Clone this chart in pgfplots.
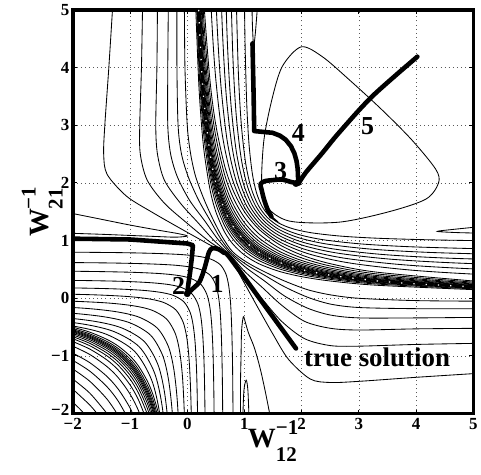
\documentclass[border=0pt]{standalone}
\usepackage{pgfplots}
\pgfplotsset{compat=1.18}
\usepackage{fontspec}
\setmainfont{Liberation Serif}
\newcommand{\Wl}[1]{\fontsize{28}{28}\selectfont\bfseries W\rlap{\raisebox{-14pt}{\fontsize{21}{21}\selectfont\bfseries #1}}\raisebox{13pt}{\fontsize{21}{21}\selectfont\bfseries −1}}
\pgfplotsset{cl/.style={black, line width=0.85pt, smooth},
 tr/.style={black, line width=4.6pt, line join=round, line cap=round}}
\begin{document}
\begin{tikzpicture}
\begin{axis}[
 scale only axis, width=402pt, height=405pt,
 xmin=-2, xmax=5, ymin=-2, ymax=5,
 xtick={-2,-1,0,1,2,3,4,5}, ytick={-2,-1,0,1,2,3,4,5},
 xticklabels={−2,−1,0,1,2,3,4,5}, yticklabels={\raisebox{7pt}{−2},−1,0,1,2,3,4,5},
 grid=major, grid style={black!65, line width=0.9pt, dash pattern=on 0.9pt off 3.2pt},
 axis line style={line width=3.6pt},
 tick align=inside, major tick length=4pt, tick style={black, line width=1pt},
 ticklabel style={font=\fontsize{17}{17}\selectfont\bfseries},
 xticklabel style={yshift=-1pt},
 xlabel={\Wl{12}}, ylabel={\Wl{21}},
 xlabel style={at={(axis description cs:0.5,0)}, anchor=north, yshift=-7pt, inner sep=0pt},
 ylabel style={at={(axis description cs:-0.025,0.5)}, anchor=south, inner sep=0pt},
]
% ---- upper band xy=c
\addplot[cl] coordinates {(0.15,5) (0.2,3.75) (0.25,3) (0.3,2.5) (0.4,1.875) (0.5,1.5) (0.65,1.154) (0.8,0.9375) (1,0.75) (1.25,0.6) (1.6,0.469) (2,0.375) (2.5,0.3) (3.3,0.227) (5,0.15)};
\addplot[cl] coordinates {(0.15,5.467) (0.2,4.1) (0.25,3.28) (0.3,2.733) (0.4,2.05) (0.5,1.64) (0.65,1.261) (0.8,1.025) (1,0.82) (1.25,0.656) (1.6,0.5125) (2,0.41) (2.5,0.328) (3.3,0.248) (5,0.164)};
\addplot[cl] coordinates {(0.15,5.8) (0.2,4.35) (0.25,3.48) (0.3,2.9) (0.4,2.175) (0.5,1.74) (0.65,1.338) (0.8,1.0875) (1,0.87) (1.25,0.696) (1.6,0.544) (2,0.435) (2.5,0.348) (3.3,0.264) (5,0.174)};
\addplot[cl] coordinates {(0.15,6.067) (0.2,4.55) (0.25,3.64) (0.3,3.033) (0.4,2.275) (0.5,1.82) (0.65,1.4) (0.8,1.1375) (1,0.91) (1.25,0.728) (1.6,0.569) (2,0.455) (2.5,0.364) (3.3,0.276) (5,0.182)};
\addplot[cl] coordinates {(0.15,6.267) (0.2,4.7) (0.25,3.76) (0.3,3.133) (0.4,2.35) (0.5,1.88) (0.65,1.446) (0.8,1.175) (1,0.94) (1.25,0.752) (1.6,0.5875) (2,0.47) (2.5,0.376) (3.3,0.285) (5,0.188)};
\addplot[cl] coordinates {(0.15,6.433) (0.2,4.825) (0.25,3.86) (0.3,3.217) (0.4,2.4125) (0.5,1.93) (0.65,1.484) (0.8,1.206) (1,0.965) (1.25,0.772) (1.6,0.603) (2,0.4825) (2.5,0.386) (3.3,0.292) (5,0.193)};
\addplot[cl] coordinates {(0.15,6.567) (0.2,4.925) (0.25,3.94) (0.3,3.283) (0.4,2.4625) (0.5,1.97) (0.65,1.515) (0.8,1.231) (1,0.985) (1.25,0.788) (1.6,0.616) (2,0.4925) (2.5,0.394) (3.3,0.298) (5,0.197)};
\addplot[cl] coordinates {(0.15,6.767) (0.2,5.075) (0.25,4.06) (0.3,3.383) (0.4,2.5375) (0.5,2.03) (0.65,1.561) (0.8,1.269) (1,1.015) (1.25,0.812) (1.6,0.634) (2,0.5075) (2.5,0.406) (3.3,0.308) (5,0.203)};
\addplot[cl] coordinates {(0.15,6.9) (0.2,5.175) (0.25,4.14) (0.3,3.45) (0.4,2.5875) (0.5,2.07) (0.65,1.592) (0.8,1.294) (1,1.035) (1.25,0.828) (1.6,0.647) (2,0.5175) (2.5,0.414) (3.3,0.314) (5,0.207)};
\addplot[cl] coordinates {(0.15,7.067) (0.2,5.3) (0.25,4.24) (0.3,3.533) (0.4,2.65) (0.5,2.12) (0.65,1.63) (0.8,1.325) (1,1.06) (1.25,0.848) (1.6,0.6625) (2,0.53) (2.5,0.424) (3.3,0.321) (5,0.212)};
\addplot[cl] coordinates {(0.15,7.267) (0.2,5.45) (0.25,4.36) (0.3,3.633) (0.4,2.725) (0.5,2.18) (0.65,1.677) (0.8,1.3625) (1,1.09) (1.25,0.872) (1.6,0.681) (2,0.545) (2.5,0.436) (3.3,0.33) (5,0.218)};
\addplot[cl] coordinates {(0.15,7.533) (0.2,5.65) (0.25,4.52) (0.3,3.767) (0.4,2.825) (0.5,2.26) (0.65,1.738) (0.8,1.4125) (1,1.13) (1.25,0.904) (1.6,0.706) (2,0.565) (2.5,0.452) (3.3,0.342) (5,0.226)};
\addplot[cl] coordinates {(0.15,7.867) (0.2,5.9) (0.25,4.72) (0.3,3.933) (0.4,2.95) (0.5,2.36) (0.65,1.815) (0.8,1.475) (1,1.18) (1.25,0.944) (1.6,0.7375) (2,0.59) (2.5,0.472) (3.3,0.358) (5,0.236)};
\addplot[cl] coordinates {(0.15,8.267) (0.2,6.2) (0.25,4.96) (0.3,4.133) (0.4,3.1) (0.5,2.48) (0.65,1.907) (0.8,1.55) (1,1.24) (1.25,0.992) (1.6,0.775) (2,0.62) (2.5,0.496) (3.3,0.376) (5,0.248)};
\addplot[cl] coordinates {(0.15,8.733) (0.2,6.55) (0.25,5.24) (0.3,4.367) (0.4,3.275) (0.5,2.62) (0.65,2.015) (0.8,1.6375) (1,1.31) (1.25,1.048) (1.6,0.819) (2,0.655) (2.5,0.524) (3.3,0.397) (5,0.262)};
\addplot[cl] coordinates {(0.15,9.333) (0.2,7) (0.25,5.6) (0.3,4.667) (0.4,3.5) (0.5,2.8) (0.65,2.154) (0.8,1.75) (1,1.4) (1.25,1.12) (1.6,0.875) (2,0.7) (2.5,0.56) (3.3,0.424) (5,0.28)};
\addplot[cl] coordinates {(0.15,10) (0.2,7.5) (0.25,6) (0.3,5) (0.4,3.75) (0.5,3) (0.65,2.308) (0.8,1.875) (1,1.5) (1.25,1.2) (1.6,0.9375) (2,0.75) (2.5,0.6) (3.3,0.4545) (5,0.3)};
% white speckle along the singular curve
\addplot[white, line width=1.3pt, smooth, dash pattern=on 1.3pt off 11pt] coordinates {(0.2,5) (0.25,4) (0.3,3.333) (0.4,2.5) (0.5,2) (0.65,1.538) (0.8,1.25) (1,1) (1.25,0.8) (1.538,0.65) (2,0.5) (2.5,0.4) (3.333,0.3) (4,0.25) (5,0.2)};
% ---- upper-right family
\addplot[cl] coordinates {(0.332,7.801) (0.396,5.518) (0.482,3.993) (0.610,2.851) (0.770,2.123) (0.983,1.605) (1.250,1.250) (1.605,0.983) (2.123,0.770) (2.851,0.610) (3.993,0.482) (5.518,0.396) (7.801,0.332)};
\addplot[cl] coordinates {(0.445,7.242) (0.503,5.164) (0.581,3.777) (0.697,2.737) (0.843,2.074) (1.037,1.603) (1.280,1.280) (1.603,1.037) (2.074,0.843) (2.737,0.697) (3.777,0.581) (5.164,0.503) (7.242,0.445)};
\addplot[cl] coordinates {(0.554,6.707) (0.607,4.826) (0.677,3.570) (0.783,2.629) (0.915,2.029) (1.090,1.603) (1.310,1.310) (1.603,1.090) (2.029,0.915) (2.629,0.783) (3.570,0.677) (4.826,0.607) (6.707,0.554)};
\addplot[cl] coordinates {(0.648,6.283) (0.696,4.560) (0.760,3.410) (0.857,2.548) (0.978,1.999) (1.139,1.608) (1.340,1.340) (1.608,1.139) (1.999,0.978) (2.548,0.857) (3.410,0.760) (4.560,0.696) (6.283,0.648)};
\addplot[cl] coordinates {(0.752,5.785) (0.795,4.246) (0.852,3.219) (0.939,2.449) (1.047,1.958) (1.190,1.609) (1.370,1.370) (1.609,1.190) (1.958,1.047) (2.449,0.939) (3.219,0.852) (4.246,0.795) (5.785,0.752)};
\addplot[cl] coordinates {(0.854,5.299) (0.892,3.940) (0.943,3.033) (1.019,2.353) (1.114,1.919) (1.241,1.612) (1.400,1.400) (1.612,1.241) (1.919,1.114) (2.353,1.019) (3.033,0.943) (3.940,0.892) (5.299,0.854)};
\addplot[cl] coordinates {(0.990,5.831) (1.010,4.432) (1.039,3.386) (1.078,2.687) (1.137,2.164) (1.210,1.830) (1.308,1.593) (1.430,1.430) (1.593,1.308) (1.830,1.210) (2.164,1.137) (2.687,1.078) (3.386,1.039) (4.432,1.010) (5.831,0.990)};
% ---- triangle loop, spikes, small loop
\addplot[cl, smooth cycle] coordinates {(1.99,4.36) (1.66,4.02) (1.48,3.45) (1.34,2.75) (1.30,2.0) (1.38,1.6) (1.78,1.34) (2.65,1.32) (3.52,1.5) (4.17,1.72) (4.39,2.0) (4.34,2.24) (3.92,2.75) (3.4,3.27) (2.83,3.79) (2.36,4.19)};
\addplot[cl] coordinates {(1.13,5.1) (1.14,4.7) (1.16,4.38) (1.19,4.6) (1.23,5.1)};
\addplot[cl] coordinates {(5.1,1.13) (4.7,1.14) (4.37,1.16) (4.6,1.19) (5.1,1.24)};
\addplot[cl, smooth cycle] coordinates {(1.40,1.52) (1.47,1.40) (1.58,1.33) (1.50,1.40) (1.43,1.48)};
% ---- lower band
\addplot[cl] coordinates {(-2,-0.5) (-1.7,-0.588) (-1.4,-0.714) (-1.2,-0.833) (-1,-1) (-0.85,-1.176) (-0.7,-1.429) (-0.6,-1.667) (-0.5,-2)};
\addplot[cl] coordinates {(-2,-0.525) (-1.7,-0.618) (-1.4,-0.75) (-1.2,-0.875) (-1,-1.05) (-0.85,-1.235) (-0.7,-1.5) (-0.6,-1.75) (-0.5,-2.1)};
\addplot[cl] coordinates {(-2,-0.545) (-1.7,-0.641) (-1.4,-0.779) (-1.2,-0.908) (-1,-1.09) (-0.85,-1.282) (-0.7,-1.557) (-0.6,-1.817) (-0.5,-2.18)};
\addplot[cl] coordinates {(-2,-0.56) (-1.7,-0.659) (-1.4,-0.8) (-1.2,-0.933) (-1,-1.12) (-0.85,-1.318) (-0.7,-1.6) (-0.6,-1.867) (-0.5,-2.24)};
\addplot[cl] coordinates {(-2,-0.575) (-1.7,-0.676) (-1.4,-0.821) (-1.2,-0.958) (-1,-1.15) (-0.85,-1.353) (-0.7,-1.643) (-0.6,-1.917) (-0.5,-2.3)};
\addplot[cl] coordinates {(-2,-0.59) (-1.7,-0.694) (-1.4,-0.843) (-1.2,-0.983) (-1,-1.18) (-0.85,-1.388) (-0.7,-1.686) (-0.6,-1.967) (-0.5,-2.36)};
\addplot[cl] coordinates {(-2,-0.61) (-1.7,-0.718) (-1.4,-0.871) (-1.2,-1.017) (-1,-1.22) (-0.85,-1.435) (-0.7,-1.743) (-0.6,-2.033)};
\addplot[cl] coordinates {(-2,-0.635) (-1.7,-0.747) (-1.4,-0.907) (-1.2,-1.058) (-1,-1.27) (-0.85,-1.494) (-0.7,-1.814) (-0.6,-2.117)};
\addplot[cl] coordinates {(-2,-0.665) (-1.7,-0.782) (-1.4,-0.95) (-1.2,-1.108) (-1,-1.33) (-0.85,-1.565) (-0.7,-1.9) (-0.6,-2.217)};
\addplot[cl] coordinates {(-2,-0.7) (-1.7,-0.824) (-1.4,-1) (-1.2,-1.167) (-1,-1.4) (-0.85,-1.647) (-0.7,-2)};
\addplot[cl] coordinates {(-2,-0.75) (-1.7,-0.882) (-1.4,-1.071) (-1.2,-1.25) (-1,-1.5) (-0.85,-1.765) (-0.7,-2.143)};
\addplot[cl] coordinates {(-2,-0.83) (-1.7,-0.976) (-1.4,-1.186) (-1.2,-1.383) (-1,-1.66) (-0.85,-1.953) (-0.7,-2.371)};
\addplot[cl] coordinates {(-2,-0.95) (-1.7,-1.118) (-1.4,-1.357) (-1.2,-1.583) (-1,-1.9) (-0.85,-2.235)};
\addplot[cl] coordinates {(-2,-1.075) (-1.7,-1.265) (-1.4,-1.536) (-1.2,-1.792) (-1,-2.15)};
\addplot[cl] coordinates {(-2,-1.225) (-1.7,-1.441) (-1.4,-1.75) (-1.2,-2.042)};
\addplot[cl] coordinates {(-2,-1.4) (-1.7,-1.647) (-1.4,-2)};
\addplot[cl] coordinates {(-2,-1.575) (-1.7,-1.853) (-1.55,-2.032)};
\addplot[cl] coordinates {(-2,-1.8) (-1.85,-1.946) (-1.7,-2.118)};
% ---- SW corner family
\addplot[cl] coordinates {(0.801,-2.186) (0.792,-1.183) (0.777,-0.517) (0.756,-0.069) (0.724,0.219) (0.676,0.420) (0.580,0.580) (0.420,0.676) (0.219,0.724) (-0.069,0.756) (-0.517,0.777) (-1.183,0.792) (-2.186,0.801)};
\addplot[cl] coordinates {(0.623,-2.386) (0.613,-1.376) (0.598,-0.705) (0.577,-0.254) (0.545,0.037) (0.497,0.238) (0.400,0.400) (0.238,0.497) (0.037,0.545) (-0.254,0.577) (-0.705,0.598) (-1.376,0.613) (-2.386,0.623)};
\addplot[cl] coordinates {(0.476,-2.708) (0.465,-1.639) (0.450,-0.929) (0.427,-0.452) (0.394,-0.145) (0.342,0.069) (0.240,0.240) (0.069,0.342) (-0.145,0.394) (-0.452,0.427) (-0.929,0.450) (-1.639,0.465) (-2.708,0.476)};
\addplot[cl] coordinates {(0.318,-2.894) (0.308,-1.815) (0.293,-1.099) (0.269,-0.618) (0.236,-0.308) (0.184,-0.092) (0.080,0.080) (-0.092,0.184) (-0.308,0.236) (-0.618,0.269) (-1.099,0.293) (-1.815,0.308) (-2.894,0.318)};
\addplot[cl] coordinates {(0.192,-3.210) (0.181,-2.068) (0.165,-1.309) (0.140,-0.799) (0.104,-0.471) (0.050,-0.243) (-0.060,-0.060) (-0.243,0.050) (-0.471,0.104) (-0.799,0.140) (-1.309,0.165) (-2.068,0.181) (-3.210,0.192)};
\addplot[cl] coordinates {(0.093,-3.852) (0.080,-2.528) (0.061,-1.648) (0.032,-1.057) (-0.009,-0.676) (-0.073,-0.411) (-0.200,-0.200) (-0.411,-0.073) (-0.676,-0.009) (-1.057,0.032) (-1.648,0.061) (-2.528,0.080) (-3.852,0.093)};
\addplot[cl] coordinates {(-0.024,-3.163) (-0.047,-2.104) (-0.081,-1.393) (-0.131,-0.934) (-0.207,-0.615) (-0.360,-0.360) (-0.615,-0.207) (-0.934,-0.131) (-1.393,-0.081) (-2.104,-0.047) (-3.163,-0.024)};
\addplot[cl] coordinates {(-0.101,-4.007) (-0.130,-2.689) (-0.172,-1.804) (-0.234,-1.233) (-0.329,-0.837) (-0.520,-0.520) (-0.837,-0.329) (-1.233,-0.234) (-1.804,-0.172) (-2.689,-0.130) (-4.007,-0.101)};
\addplot[cl] coordinates {(-0.176,-4.505) (-0.208,-3.045) (-0.255,-2.064) (-0.324,-1.431) (-0.429,-0.992) (-0.640,-0.640) (-0.992,-0.429) (-1.431,-0.324) (-2.064,-0.255) (-3.045,-0.208) (-4.505,-0.176)};
\addplot[cl] coordinates {(-0.268,-3.431) (-0.321,-2.338) (-0.397,-1.632) (-0.515,-1.142) (-0.750,-0.750) (-1.142,-0.515) (-1.632,-0.397) (-2.338,-0.321) (-3.431,-0.268)};
\addplot[cl] coordinates {(-0.301,-3.843) (-0.360,-2.618) (-0.445,-1.828) (-0.577,-1.280) (-0.840,-0.840) (-1.280,-0.577) (-1.828,-0.445) (-2.618,-0.360) (-3.843,-0.301)};
\addplot[cl] coordinates {(-0.311,-4.306) (-0.378,-2.925) (-0.475,-2.034) (-0.623,-1.415) (-0.920,-0.920) (-1.415,-0.623) (-2.034,-0.475) (-2.925,-0.378) (-4.306,-0.311)};
% ---- lines passing between saddle and band (top -> right edge)
\addplot[cl] coordinates {(-0.05,5.1) (-0.04,4) (0.0,3) (0.06,2.5) (0.15,2.1) (0.3,1.7) (0.46,1.35) (0.62,1.05) (0.8,0.8) (1.05,0.62) (1.35,0.46) (1.7,0.3) (2.1,0.15) (2.5,0.06) (3,0.0) (4,-0.04) (5.1,-0.05)};
\addplot[cl] coordinates {(-0.18,5.1) (-0.18,4) (-0.16,3) (-0.1,2.5) (0.02,2.1) (0.2,1.7) (0.4,1.35) (0.58,1.04) (0.78,0.78) (1.04,0.58) (1.35,0.4) (1.7,0.2) (2.1,0.02) (2.5,-0.1) (3,-0.16) (4,-0.18) (5.1,-0.18)};
\addplot[cl] coordinates {(-0.33,5.1) (-0.34,4) (-0.34,3) (-0.29,2.5) (-0.17,2.1) (0.04,1.7) (0.3,1.35) (0.53,1.03) (0.765,0.765) (1.03,0.53) (1.35,0.3) (1.7,0.04) (2.1,-0.17) (2.5,-0.29) (3,-0.34) (4,-0.34) (5.1,-0.33)};
\addplot[cl] coordinates {(-0.52,5.1) (-0.53,4) (-0.55,3) (-0.52,2.5) (-0.4,2.05) (-0.12,1.65) (0.18,1.32) (0.47,1.0) (0.75,0.75) (1.0,0.47) (1.32,0.18) (1.65,-0.12) (2.05,-0.4) (2.5,-0.52) (3,-0.55) (4,-0.53) (5.1,-0.52)};
\addplot[cl] coordinates {(-0.78,5.1) (-0.8,4) (-0.83,3) (-0.82,2.5) (-0.7,2.05) (-0.4,1.65) (0.0,1.3) (0.38,0.99) (0.74,0.74) (0.99,0.38) (1.3,0.0) (1.65,-0.4) (2.05,-0.7) (2.5,-0.82) (3,-0.83) (4,-0.8) (5.1,-0.78)};
\addplot[cl] coordinates {(-1.3,5.1) (-1.37,4) (-1.44,3) (-1.46,2.5) (-1.4,2.15) (-1.06,1.77) (-0.61,1.49) (-0.1,1.2) (0.35,0.95) (0.73,0.73) (0.95,0.35) (1.2,-0.1) (1.49,-0.61) (1.77,-1.06) (2.15,-1.4) (2.5,-1.46) (3,-1.44) (4,-1.37) (5.1,-1.3)};
% ---- U lines
\addplot[cl] coordinates {(-2.1,1.13) (-1.5,1.11) (-1.0,1.09) (-0.5,1.07) (-0.2,1.06) (0.0,1.08) (-0.15,1.12) (-0.5,1.18) (-1.0,1.27) (-1.5,1.37) (-2.1,1.49)};
\addplot[cl] coordinates {(0.93,-2.1) (0.93,-1.5) (0.94,-1.0) (0.95,-0.55) (0.98,-0.32) (1.01,-0.4) (1.07,-0.6) (1.17,-0.85) (1.27,-1.2) (1.36,-1.6) (1.46,-2.1)};
\addplot[cl] coordinates {(0.97,-2.1) (0.99,-1.6) (1.03,-1.42) (1.06,-1.6) (1.08,-2.1)};
% ---- trajectories
\addplot[tr] coordinates {(-2.1,1.035) (-1,1.02) (0,0.95) (0.1,0.92) (0.08,0.7) (0.05,0.45) (0.02,0.25) (0.0,0.08)};
\addplot[tr, smooth] coordinates {(0.0,0.08) (0.1,0.17) (0.21,0.28) (0.28,0.45) (0.33,0.62) (0.38,0.8) (0.44,0.87) (0.55,0.85) (0.64,0.79) (0.74,0.71) (1.32,-0.08) (1.9,-0.87)};
\addplot[tr, smooth] coordinates {(1.47,1.42) (1.40,1.55) (1.34,1.72) (1.30,1.88) (1.28,1.98) (1.35,2.03) (1.5,2.05) (1.66,2.06) (1.8,2.02) (1.95,1.99)};
\addplot[tr] coordinates {(1.14,4.42) (1.16,3.5) (1.17,2.9) (1.49,2.87) (1.62,2.82) (1.72,2.75) (1.81,2.64) (1.87,2.52) (1.91,2.38) (1.93,2.24) (1.94,2.0)};
\addplot[tr, smooth] coordinates {(1.95,2.0) (2.07,2.18) (2.36,2.52) (2.65,2.87) (3.23,3.5) (4.02,4.19)};
\addplot[only marks, mark=*, mark size=3.2pt, black] coordinates {(0.0,0.08) (1.9,1.99)};
% ---- labels
\node[font=\fontsize{26}{26}\selectfont\bfseries] at (axis cs:0.52,0.25) {1};
\node[font=\fontsize{26}{26}\selectfont\bfseries] at (axis cs:-0.15,0.21) {2};
\node[font=\fontsize{26}{26}\selectfont\bfseries] at (axis cs:1.63,2.21) {3};
\node[font=\fontsize{26}{26}\selectfont\bfseries] at (axis cs:1.94,2.87) {4};
\node[font=\fontsize{26}{26}\selectfont\bfseries] at (axis cs:3.15,2.99) {5};
\node[font=\fontsize{27}{27}\selectfont\bfseries, anchor=west, inner sep=0pt] at (axis cs:2.04,-1.03) {true solution};
\end{axis}
\path (current axis.south west) ++(-73pt,-61pt) coordinate (A);
\path (current axis.north east) ++(6pt,10pt) coordinate (B);
\path (A) rectangle (B);
\end{tikzpicture}
\end{document}
